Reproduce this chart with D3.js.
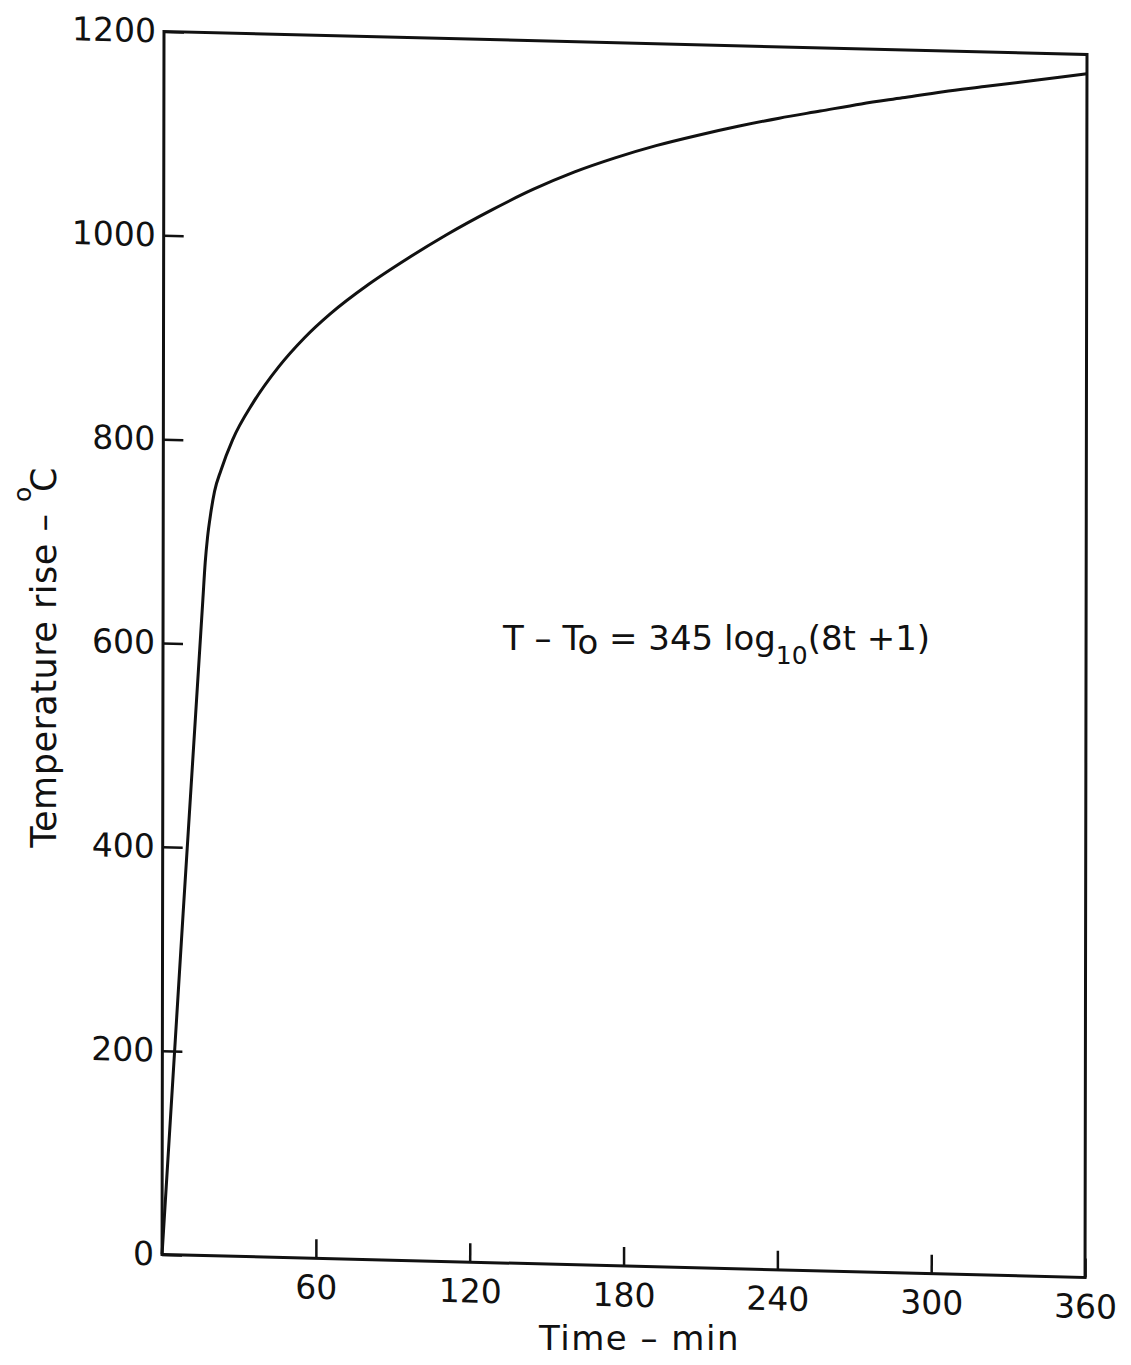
<!DOCTYPE html>
<html>
<head>
<meta charset="utf-8">
<script src="https://cdnjs.cloudflare.com/ajax/libs/d3/7.8.5/d3.min.js"></script>
<style>
    body { margin: 0; background: #fff; }
    svg text { font-family: "DejaVu Sans", sans-serif; fill: #111; }
</style>
</head>
<body>
<svg id="chart" width="1131" height="1365"></svg>
<script>
// fire curve: time in min, temperature rise in deg C
var time = [ 0, 8, 15.5, 16.4, 17.3, 18.5, 20, 22.5, 27, 35, 45, 55, 65, 80, 95, 110,
    128, 144, 160, 176, 192, 208, 224, 240, 256, 272, 288, 304, 320, 336, 360 ];
var temp = [ 0, 335, 643, 680, 705, 728, 750, 771, 801, 838, 874, 903, 927, 957, 983, 1007,
    1033, 1054, 1072, 1087, 1100, 1111, 1121, 1130, 1138, 1146, 1153, 1160, 1166, 1172, 1181 ];

var xTicks = [ 60, 120, 180, 240, 300, 360 ];
var yTicks = [ 0, 200, 400, 600, 800, 1000, 1200 ];

var width = 923;
var height = 1223;

var svg = d3.select( '#chart' );

// the scanned frame leans a little, so the plot is skewed to follow it
var plot = svg.append( 'g' )
    .attr( 'transform', 'matrix( 1, 0.0249, -0.0016, 1, 164, 31.5 )' );

var x = d3.scaleLinear().domain( [ 0, 360 ] ).range( [ 0, width ] );
var y = d3.scaleLinear().domain( [ 0, 1200 ] ).range( [ height, 0 ] );

var xAxis = plot.append( 'g' )
    .attr( 'transform', 'translate( 0, ' + height + ' )' )
    .call( d3.axisBottom( x )
        .tickValues( xTicks )
        .tickFormat( d3.format( 'd' ) )
        .tickSizeInner( -19 )
        .tickSizeOuter( 0 )
        .tickPadding( 17 ) );

var yAxis = plot.append( 'g' )
    .call( d3.axisLeft( y )
        .tickValues( yTicks )
        .tickFormat( d3.format( 'd' ) )
        .tickSizeInner( -20 )
        .tickSizeOuter( 0 )
        .tickPadding( 8 ) );

[ xAxis, yAxis ].forEach( function( ax ) {
    ax.attr( 'font-size', 33 ).attr( 'font-family', null );
    ax.select( '.domain' ).remove();
    ax.selectAll( 'line' ).attr( 'stroke', '#111' ).attr( 'stroke-width', 2.5 );
});

plot.append( 'rect' )
    .attr( 'width', width )
    .attr( 'height', height )
    .attr( 'fill', 'none' )
    .attr( 'stroke', '#111' )
    .attr( 'stroke-width', 3 );

var line = d3.line()
    .x( function( d ) { return x( d[ 0 ] ); } )
    .y( function( d ) { return y( d[ 1 ] ); } )
    .curve( d3.curveMonotoneX );

plot.append( 'path' )
    .datum( d3.zip( time, temp ) )
    .attr( 'd', line )
    .attr( 'fill', 'none' )
    .attr( 'stroke', '#111' )
    .attr( 'stroke-width', 3 )
    .attr( 'stroke-linejoin', 'round' );

// titles and the formula sit straight, not skewed
var notes = svg.append( 'g' )
    .attr( 'transform', 'translate( 164, 31.5 )' );

notes.append( 'text' )
    .attr( 'x', width / 2 + 14 )
    .attr( 'y', height + 95 )
    .attr( 'text-anchor', 'middle' )
    .attr( 'font-size', 34 )
    .attr( 'letter-spacing', 1.5 )
    .text( 'Time – min' );

var yTitle = notes.append( 'text' )
    .attr( 'transform', 'rotate( -90 )' )
    .attr( 'x', -626 )
    .attr( 'y', -108 )
    .attr( 'text-anchor', 'middle' )
    .attr( 'font-size', 35 )
    .attr( 'letter-spacing', 0.5 );
yTitle.append( 'tspan' ).text( 'Temperature rise – ' );
yTitle.append( 'tspan' ).attr( 'font-size', 25 ).attr( 'dy', -25 ).text( 'o' );
yTitle.append( 'tspan' ).attr( 'dy', 25 ).attr( 'dx', -6 ).text( 'C' );

var formula = notes.append( 'text' )
    .attr( 'x', 339 )
    .attr( 'y', 618 )
    .attr( 'font-size', 34 );
formula.append( 'tspan' ).text( 'T – T' );
formula.append( 'tspan' ).attr( 'dy', 4 ).text( 'o' );
formula.append( 'tspan' ).attr( 'dy', -4 ).text( ' = 345 log' );
formula.append( 'tspan' ).attr( 'dy', 14 ).attr( 'font-size', 25 ).text( '10' );
formula.append( 'tspan' ).attr( 'dy', -14 ).text( '(8t +1)' );
</script>
</body>
</html>
